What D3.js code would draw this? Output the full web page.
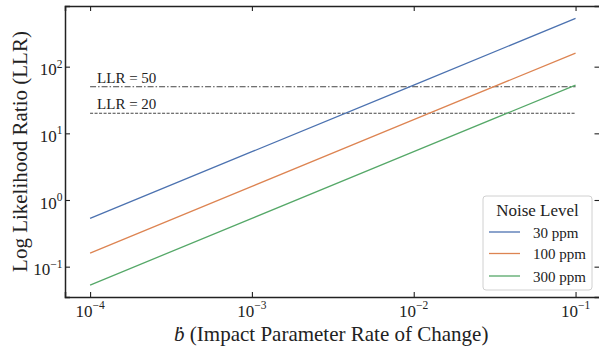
<!DOCTYPE html>
<html>
<head>
<meta charset="utf-8">
<script src="https://cdn.jsdelivr.net/npm/d3@7"></script>
<style>
  html, body { margin: 0; padding: 0; background: #fff; }
  svg { display: block; }
  svg text { font-family: "Liberation Serif", "Times New Roman", Times, serif; fill: #222; }
</style>
</head>
<body>
<script>
// ---- data ----
const xValues = [1e-4, 1e-3, 1e-2, 1e-1];
const series30 = [0.53, 5.3, 53, 530];
const series100 = [0.16, 1.6, 16, 160];
const series300 = [0.053, 0.53, 5.3, 53];
const seriesNames = ["30 ppm", "100 ppm", "300 ppm"];
const seriesColors = ["#4c72b0", "#dd8452", "#55a868"];
const thresholds = [50, 20];
const thresholdLabels = ["LLR = 50", "LLR = 20"];
const xTicks = [1e-4, 1e-3, 1e-2, 1e-1];
const yTicks = [1e-1, 1e0, 1e1, 1e2];

const W = 599, H = 349;
const plot = { left: 65, right: 599.5, top: 6, bottom: 297 };
const FONT = "'Liberation Serif', 'Times New Roman', Times, serif";

const svg = d3.select("body").append("svg").attr("width", W).attr("height", H)
  .attr("font-family", FONT);

const x = d3.scaleLog().domain([Math.pow(10, -4.155), Math.pow(10, -0.852)]).range([plot.left, plot.right]);
const y = d3.scaleLog().domain([Math.pow(10, -1.455), Math.pow(10, 2.91)]).range([plot.bottom, plot.top]);

svg.append("defs").append("clipPath").attr("id", "clip")
  .append("rect").attr("x", plot.left).attr("y", plot.top)
  .attr("width", plot.right - plot.left).attr("height", plot.bottom - plot.top);

const g = svg.append("g").attr("clip-path", "url(#clip)");

// threshold lines
const dashes = ["6,2,1.5,2", "3,1.5"];
thresholds.forEach((t, i) => {
  g.append("line")
    .attr("x1", x(xValues[0])).attr("x2", x(xValues[xValues.length - 1]))
    .attr("y1", y(t)).attr("y2", y(t))
    .attr("stroke", "#444").attr("stroke-width", 1)
    .attr("stroke-dasharray", dashes[i]);
  svg.append("text")
    .attr("x", x(xValues[0]) + 7).attr("y", y(t) - 4)
    .attr("font-family", FONT)
    .attr("font-size", 15).text(thresholdLabels[i]);
});

// series lines
const allSeries = [series30, series100, series300];
const line = d3.line().x(d => x(d[0])).y(d => y(d[1]));
allSeries.forEach((s, i) => {
  g.append("path")
    .datum(xValues.map((xv, j) => [xv, s[j]]))
    .attr("d", line)
    .attr("fill", "none")
    .attr("stroke", seriesColors[i])
    .attr("stroke-width", 1.3);
});

// axes (ticks inside)
const tickLen = 5;
function supLabel(sel, v) {
  const e = Math.round(Math.log10(v));
  sel.append("tspan").text("10");
  sel.append("tspan").attr("font-size", 11.5).attr("dy", -7.5).text(e < 0 ? "\u2212" + (-e) : String(e));
}

const axB = svg.append("g").attr("transform", `translate(0,${plot.bottom})`)
  .call(d3.axisBottom(x).tickValues(xTicks).tickSize(-tickLen).tickFormat(""));
const axT = svg.append("g").attr("transform", `translate(0,${plot.top})`)
  .call(d3.axisTop(x).tickValues(xTicks).tickSize(-tickLen).tickFormat(""));
const axL = svg.append("g").attr("transform", `translate(${plot.left},0)`)
  .call(d3.axisLeft(y).tickValues(yTicks).tickSize(-tickLen).tickFormat(""));
const axR = svg.append("g").attr("transform", `translate(${plot.right},0)`)
  .call(d3.axisRight(y).tickValues(yTicks).tickSize(-tickLen).tickFormat(""));
[axB, axT, axL, axR].forEach(a => {
  a.select(".domain").attr("stroke", "#222").attr("stroke-width", 1.5);
  a.selectAll(".tick line").attr("stroke", "#222").attr("stroke-width", 1.1);
});

// x tick labels
xTicks.forEach(v => {
  const t = svg.append("text").attr("x", x(v)).attr("y", plot.bottom + 19.5)
    .attr("font-family", FONT)
    .attr("font-size", 17).attr("text-anchor", "middle");
  supLabel(t, v);
});
// y tick labels
yTicks.forEach(v => {
  const t = svg.append("text").attr("x", plot.left - 2.5).attr("y", y(v) + 8.5)
    .attr("font-family", FONT)
    .attr("font-size", 17).attr("text-anchor", "end");
  supLabel(t, v);
});

// axis titles
const xl = svg.append("text").attr("x", (plot.left + plot.right) / 2 - 1).attr("y", 341)
  .attr("font-family", FONT)
  .attr("font-size", 21).attr("text-anchor", "middle");
xl.append("tspan").attr("font-style", "italic").text("\u1E03");
xl.append("tspan").text(" (Impact Parameter Rate of Change)");

svg.append("text")
  .attr("transform", `translate(27,${(plot.top + plot.bottom) / 2}) rotate(-90)`)
  .attr("font-family", FONT)
  .attr("font-size", 21).attr("text-anchor", "middle")
  .text("Log Likelihood Ratio (LLR)");

// legend
const lg = svg.append("g");
lg.append("rect").attr("x", 483).attr("y", 196).attr("width", 109).attr("height", 94)
  .attr("rx", 3).attr("fill", "#fff").attr("fill-opacity", 0.85)
  .attr("stroke", "#d0d0d0").attr("stroke-width", 1);
lg.append("text").attr("x", 537.5).attr("y", 216).attr("font-size", 17)
  .attr("font-family", FONT)
  .attr("text-anchor", "middle").text("Noise Level");
const rowY = [232, 253.5, 276];
seriesNames.forEach((n, i) => {
  lg.append("line").attr("x1", 489).attr("x2", 520).attr("y1", rowY[i]).attr("y2", rowY[i])
    .attr("stroke", seriesColors[i]).attr("stroke-width", 1.3);
  lg.append("text").attr("x", 533).attr("y", rowY[i] + 5.5).attr("font-size", 15)
    .attr("font-family", FONT).text(n);
});
</script>
</body>
</html>
